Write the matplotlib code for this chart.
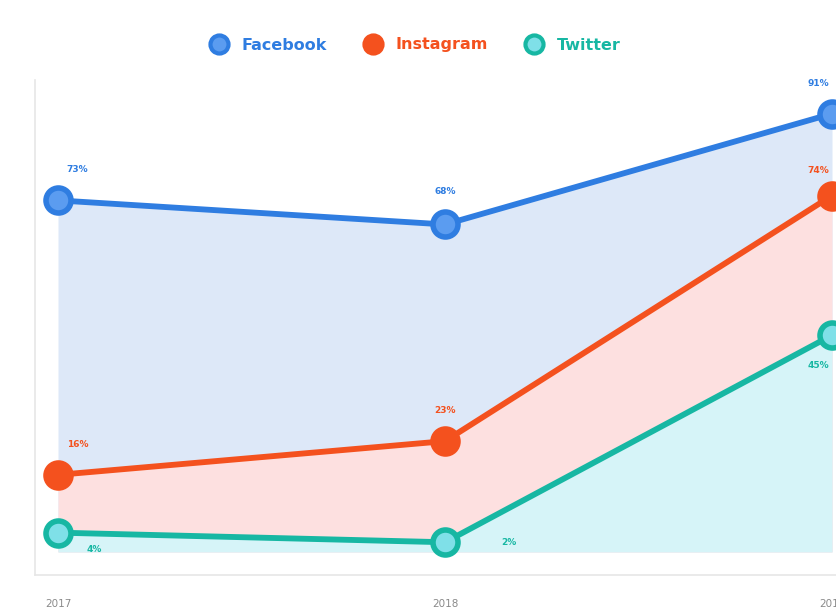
import matplotlib
matplotlib.use("Agg")
import matplotlib.pyplot as plt
from matplotlib.lines import Line2D

# --------------------------------------------------------------------------
# Data (share of users, %)
# --------------------------------------------------------------------------
years     = [2017, 2018, 2019]
facebook  = [73, 68, 91]
instagram = [16, 23, 74]
twitter   = [4, 2, 45]

series_names = ["Facebook", "Instagram", "Twitter"]
line_colors  = ["#2f7de1", "#f4511e", "#17b7a3"]
face_colors  = ["#5b9cf0", "#f4511e", "#7fe0e8"]
fill_colors  = ["#dde8f8", "#fde0e0", "#d6f4f8"]

# label offsets (points) per series, per year
label_offsets = [
    [(14, 22), (0, 24), (-10, 22)],
    [(14, 22), (0, 22), (-10, 18)],
    [(26, -12), (46, 0), (-10, -22)],
]

PX_PER_YEAR = 387.0

fig = plt.figure(figsize=(8.36, 6.14), dpi=100)
ax = fig.add_axes([35 / 836, 39 / 614, 880 / 836, 495 / 614])

all_series = [facebook, instagram, twitter]

# fills first, stacked from back (Facebook) to front (Twitter)
for vals, fc in zip(all_series, fill_colors):
    ax.fill_between(years, vals, 0, color=fc, linewidth=0, zorder=1)

for vals, lc, mfc, offs in zip(all_series, line_colors, face_colors, label_offsets):
    ax.plot(years, vals, color=lc, linewidth=4.2, marker="o", markersize=18,
            markerfacecolor=mfc, markeredgecolor=lc, markeredgewidth=4,
            solid_capstyle="round", zorder=3)
    for x, v, (dx, dy) in zip(years, vals, offs):
        ax.annotate(f"{v}%", (x, v), xytext=(dx, dy), textcoords="offset points",
                    ha="center", va="center", fontsize=6.5, fontweight="bold",
                    color=lc, zorder=4)

ax.set_xlim(2017 - 23 / PX_PER_YEAR, 2017 + 857 / PX_PER_YEAR)
ax.set_ylim(-4.8, 98)

ax.set_xticks(years)
ax.set_xticklabels([str(y) for y in years], fontsize=7.5, color="#8a8a8a")
ax.tick_params(axis="x", length=0, pad=17)
ax.set_yticks([])

for side in ["top", "right"]:
    ax.spines[side].set_visible(False)
ax.spines["left"].set_color("#e6e6e6")
ax.spines["bottom"].set_color("#e6e6e6")
ax.spines["left"].set_linewidth(1.2)
ax.spines["bottom"].set_linewidth(1.2)

# legend on top
handles = [Line2D([0], [0], linestyle="none", marker="o", markersize=13,
                  markerfacecolor=mfc, markeredgecolor=lc, markeredgewidth=3)
           for lc, mfc in zip(line_colors, face_colors)]
leg = fig.legend(handles, series_names, loc="center", bbox_to_anchor=(412 / 836, 1 - 45 / 614),
                 ncol=3, frameon=False, handletextpad=0.4, columnspacing=1.9,
                 prop={"size": 11.5, "weight": "bold"})
for txt, lc in zip(leg.get_texts(), line_colors):
    txt.set_color(lc)

plt.savefig("out.png", dpi=100)
plt.close()
